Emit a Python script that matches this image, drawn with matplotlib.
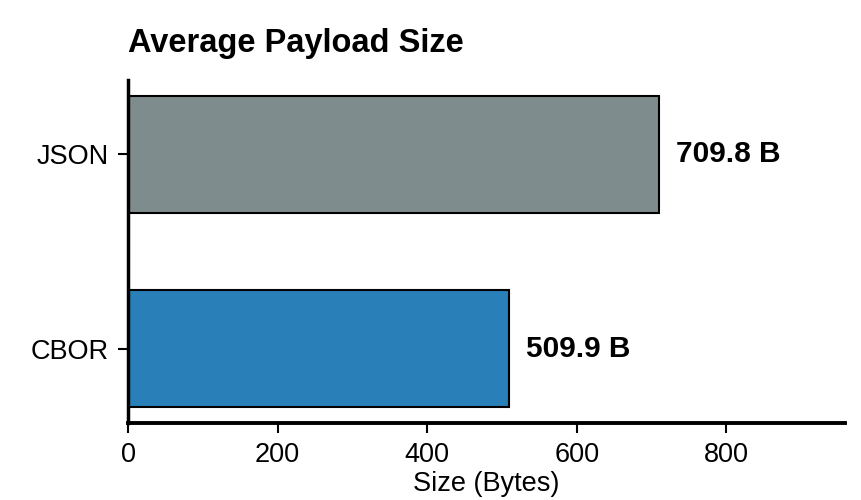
import matplotlib
matplotlib.use("Agg")
import matplotlib.pyplot as plt

formats = ["CBOR", "JSON"]
avg_size = [509.9, 709.8]
bar_colors = ["#2980b9", "#7f8c8d"]

plt.rcParams['font.family'] = ['Liberation Sans', 'DejaVu Sans']

fig = plt.figure(figsize=(8.62, 5.0), dpi=100)
ax = fig.add_axes([0.1485, 0.154, 0.8315, 0.686])

ypos = range(len(formats))
ax.barh(ypos, avg_size, height=0.6, color=bar_colors, edgecolor="black", linewidth=1.5)

for y, v in zip(ypos, avg_size):
    ax.annotate(f"{v:.1f} B", xy=(v, y), xytext=(12, 0), textcoords="offset points",
                ha="left", va="center", fontsize=21.5, fontweight="bold")

ax.set_yticks(list(ypos), formats)
ax.set_xlim(0, max(avg_size) * 1.35)
ax.set_xticks([0, 200, 400, 600, 800])

ax.spines['top'].set_visible(False)
ax.spines['right'].set_visible(False)
ax.spines['left'].set_linewidth(2.5)
ax.spines['bottom'].set_linewidth(2.8)
ax.tick_params(axis='x', labelsize=19.5, length=7, width=1.5, pad=7)
ax.tick_params(axis='y', labelsize=19.5, length=7, width=1.5, pad=7)

# reference crops this label at the bottom edge; keep it just inside
ax.set_xlabel("Size (Bytes)", fontsize=19.5, labelpad=1.5)
ax.set_title("Average Payload Size", loc="left", fontsize=23.5, fontweight="bold", pad=20)

fig.savefig("out.png", dpi=100)
